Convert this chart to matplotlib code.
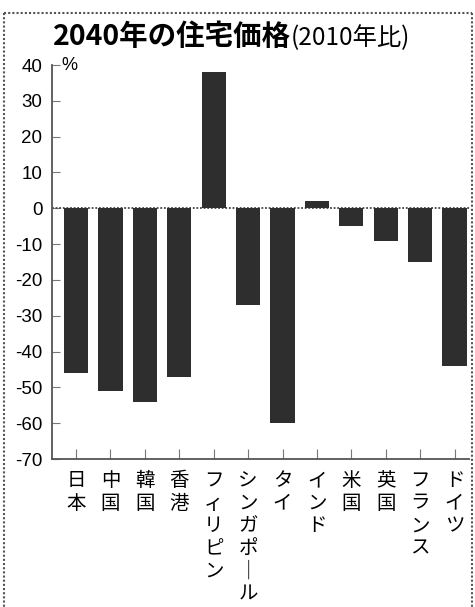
import matplotlib
matplotlib.use("Agg")
import matplotlib.pyplot as plt
from matplotlib.lines import Line2D

plt.rcParams['font.family'] = ['Noto Sans CJK JP', 'DejaVu Sans']

COUNTRIES = ["日本", "中国", "韓国", "香港", "フィリピン", "シンガポール",
             "タイ", "インド", "米国", "英国", "フランス", "ドイツ"]
CHANGE = [-46, -51, -54, -47, 38, -27, -60, 2, -5, -9, -15, -44]
YTICKS = [40, 30, 20, 10, 0, -10, -20, -30, -40, -50, -60, -70]

W, H = 475, 607
fig = plt.figure(figsize=(W / 100, H / 100), dpi=100)
fig.patch.set_facecolor("white")

# outer dotted frame (pixel coords -> figure fraction)
fl, fr, ft = 3.5, 471.5, 12.5
for xs, ys in [((fl, fr), (ft, ft)), ((fl, fl), (ft, H + 5)),
               ((fr, fr), (ft, H + 5))]:
    fig.add_artist(Line2D([v / W for v in xs], [1 - v / H for v in ys],
                          transform=fig.transFigure, color="#555", lw=1.5,
                          ls=(0, (1, 1))))

ax = fig.add_axes([52 / W, 1 - 459 / H, 418 / W, 394 / H])
x = list(range(len(COUNTRIES)))
ax.bar(x, CHANGE, width=0.7, color="#2e2e2e", zorder=3)
ax.axhline(0, color="#444", lw=1.3, ls=(0, (1, 1)), zorder=2)

ax.set_xlim(-0.7, 11.45)
ax.set_ylim(-70, 40)
for s in ["top", "right"]:
    ax.spines[s].set_visible(False)
for s in ["left", "bottom"]:
    ax.spines[s].set_color("#555")
    ax.spines[s].set_linestyle((0, (1, 1)))
    ax.spines[s].set_linewidth(1.3)

ax.set_yticks(YTICKS)
ax.set_yticklabels([str(v) for v in YTICKS], family="Liberation Sans",
                   fontsize=13.5)
ax.tick_params(axis="y", direction="in", length=6, width=0.8, color="#777",
               pad=7)

ax.set_xticks(x)
ax.set_xticklabels(["\n".join(c.replace("ー", "｜")) for c in COUNTRIES],
                   fontsize=14, linespacing=1.1, va="top")
ax.tick_params(axis="x", direction="in", length=7, width=0.8, color="#777",
               pad=8)

ax.text(0.022, 40, "%", transform=ax.get_yaxis_transform(), fontsize=13,
        family="Liberation Sans", va="center", ha="left")

# title
fig.text(53 / W, 1 - 37 / H, "2040年の住宅価格", fontsize=20.5,
         fontweight="bold", va="center", ha="left")
fig.text(291 / W, 1 - 38 / H, "(2010年比)", fontsize=17.5,
         va="center", ha="left")

fig.savefig("out.png", dpi=100)
